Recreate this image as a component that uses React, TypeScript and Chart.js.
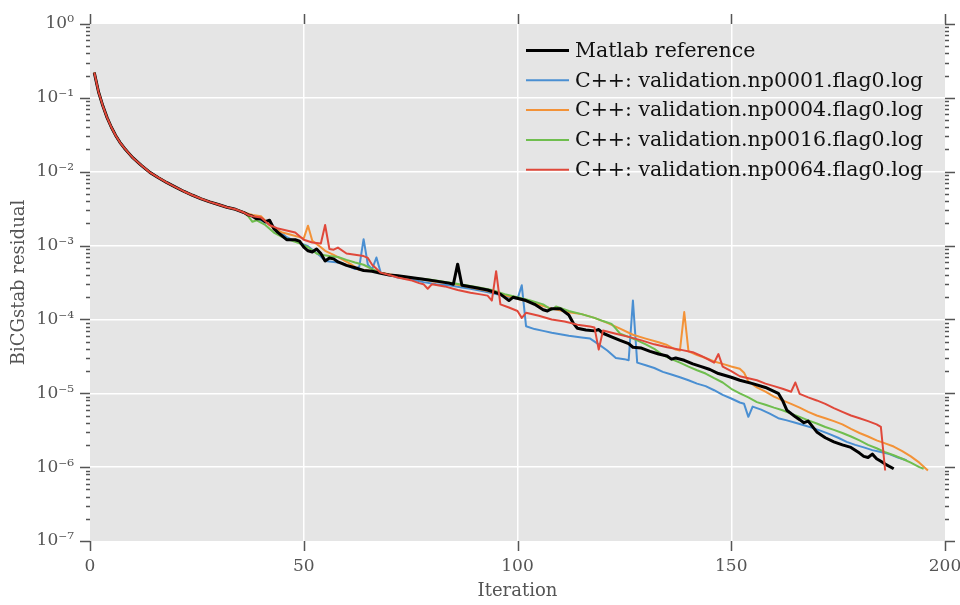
import React, { useEffect, useRef } from "react";
import { Chart, registerables } from "chart.js";
Chart.register(...registerables);

// ---- data (iteration, residual) ----
const commonIter = [1, 2, 3, 4, 5, 6, 7, 8, 9, 10, 12, 14, 16, 18, 20, 22, 24, 26, 28, 30, 32, 34, 36];
const commonRes = [0.22, 0.12, 0.078, 0.054, 0.04, 0.031, 0.025, 0.021, 0.018, 0.0155, 0.0122, 0.0098, 0.0083, 0.0071, 0.0062, 0.0054, 0.0048, 0.0043, 0.0039, 0.0036, 0.0033, 0.0031, 0.0028];

const matlabIter = [37, 38, 39, 40, 41, 42, 43, 44, 46, 48, 49, 50, 51, 52, 53, 54, 55, 56, 57, 58, 60, 62, 64, 66, 68, 70, 72, 75, 78, 81, 84, 85, 86, 87, 90, 93, 96, 98, 99, 102, 104, 106, 107, 108, 110, 112, 113, 114, 116, 118, 119, 120, 122, 124, 126, 127, 129, 131, 133, 135, 136, 137, 139, 141, 143, 145, 147, 150, 152, 155, 158, 161, 162, 163, 165, 166, 167, 168, 170, 172, 174, 176, 178, 180, 181, 182, 183, 184, 185, 186, 188];
const matlabRes = [0.0026, 0.0025, 0.0023, 0.0023, 0.0021, 0.0022, 0.0017, 0.0015, 0.0012, 0.0012, 0.00115, 0.00095, 0.00085, 0.00082, 0.0009, 0.00078, 0.00062, 0.00068, 0.00066, 0.0006, 0.00054, 0.0005, 0.00046, 0.00045, 0.00042, 0.0004, 0.00039, 0.00037, 0.00035, 0.00033, 0.00031, 0.0003, 0.00056, 0.00029, 0.00027, 0.00025, 0.00022, 0.00018, 0.0002, 0.00018, 0.00016, 0.000135, 0.00013, 0.00014, 0.00014, 0.000115, 0.00009, 0.000076, 0.000072, 0.00007, 0.000073, 0.000065, 0.000058, 0.000052, 0.000047, 0.000042, 0.000041, 0.000037, 0.000034, 0.000032, 0.000029, 0.00003, 0.000028, 0.000025, 0.000023, 0.000021, 0.0000185, 0.0000165, 0.000015, 0.0000135, 0.000012, 0.00001, 0.000008, 0.0000059, 0.0000048, 0.0000044, 0.000004, 0.0000042, 0.000003, 0.0000025, 0.0000022, 0.000002, 0.00000185, 0.00000155, 0.0000014, 0.00000135, 0.0000015, 0.0000013, 0.0000012, 0.0000011, 0.00000095];

const np0001Iter = [37, 38, 40, 43, 46, 48, 51, 54, 55, 57, 59, 62, 63, 64, 65, 66, 67, 68, 70, 72, 75, 78, 81, 84, 87, 89, 92, 95, 98, 100, 101, 102, 104, 106, 108, 110, 112, 115, 117, 119, 121, 123, 125, 126, 127, 128, 130, 132, 134, 136, 138, 140, 142, 144, 146, 148, 150, 152, 153, 154, 155, 157, 159, 161, 163, 165, 167, 169, 171, 173, 175, 177, 179, 181, 183, 185, 187, 189, 191];
const np0001Res = [0.0026, 0.0025, 0.0022, 0.0018, 0.0013, 0.00115, 0.00098, 0.00071, 0.00062, 0.0006, 0.00058, 0.00048, 0.00052, 0.00122, 0.00055, 0.00048, 0.00069, 0.00043, 0.0004, 0.00037, 0.00035, 0.00032, 0.0003, 0.00029, 0.00027, 0.00026, 0.00024, 0.00022, 0.0002, 0.00019, 0.00029, 0.000081, 0.000074, 0.00007, 0.000066, 0.000063, 0.00006, 0.000057, 0.000055, 0.000046, 0.000038, 0.00003, 0.000029, 0.000028, 0.00018, 0.000026, 0.000024, 0.000022, 0.0000195, 0.000018, 0.0000165, 0.000015, 0.0000135, 0.0000125, 0.000011, 0.0000095, 0.0000085, 0.0000075, 0.0000072, 0.0000048, 0.0000066, 0.000006, 0.0000053, 0.0000046, 0.0000043, 0.000004, 0.0000037, 0.0000034, 0.0000031, 0.0000028, 0.0000025, 0.0000022, 0.000002, 0.00000185, 0.0000017, 0.0000016, 0.0000015, 0.00000135, 0.00000124];

const np0004Iter = [37, 38, 40, 42, 43, 45, 47, 49, 50, 51, 52, 54, 55, 57, 59, 61, 63, 65, 67, 70, 73, 76, 80, 84, 88, 92, 96, 100, 104, 108, 112, 115, 118, 121, 124, 127, 130, 133, 135, 137, 138, 139, 140, 142, 144, 146, 148, 150, 152, 153, 154, 156, 158, 160, 162, 164, 166, 168, 170, 172, 174, 176, 178, 180, 182, 184, 186, 188, 190, 192, 194, 196];
const np0004Res = [0.0027, 0.0026, 0.0025, 0.0019, 0.0017, 0.0015, 0.0014, 0.0013, 0.00125, 0.00186, 0.00116, 0.00095, 0.00085, 0.00075, 0.00065, 0.00056, 0.00047, 0.00046, 0.00044, 0.00041, 0.00038, 0.00036, 0.00033, 0.00031, 0.00028, 0.00025, 0.00022, 0.00019, 0.000165, 0.00014, 0.000125, 0.000118, 0.000105, 0.00009, 0.000075, 0.000062, 0.000055, 0.000049, 0.000045, 0.000039, 0.000038, 0.000126, 0.000037, 0.000033, 0.00003, 0.000027, 0.000025, 0.000023, 0.0000215, 0.000019, 0.0000145, 0.000012, 0.0000105, 0.000009, 0.000008, 0.0000072, 0.0000064, 0.0000056, 0.000005, 0.0000046, 0.0000042, 0.0000038, 0.0000033, 0.0000029, 0.0000026, 0.0000023, 0.0000021, 0.0000019, 0.00000165, 0.0000014, 0.00000115, 0.0000009];

const np0016Iter = [37, 38, 39, 41, 43, 45, 47, 49, 51, 53, 54, 56, 58, 60, 62, 64, 66, 68, 70, 73, 76, 79, 82, 85, 88, 91, 94, 97, 100, 103, 106, 108, 109, 112, 115, 118, 120, 122, 123, 124, 126, 128, 130, 132, 134, 136, 138, 140, 142, 144, 146, 148, 150, 152, 154, 156, 158, 160, 162, 164, 166, 168, 170, 172, 174, 176, 178, 180, 182, 184, 186, 188, 190, 192, 194, 195];
const np0016Res = [0.0025, 0.0021, 0.0022, 0.0019, 0.0015, 0.0013, 0.00118, 0.00107, 0.00095, 0.00078, 0.00075, 0.00072, 0.0007, 0.00064, 0.00059, 0.00055, 0.00048, 0.00043, 0.0004, 0.00038, 0.00036, 0.00035, 0.00033, 0.00031, 0.00029, 0.00027, 0.00025, 0.00022, 0.0002, 0.00018, 0.00016, 0.000135, 0.00015, 0.00013, 0.000118, 0.000105, 0.000095, 0.000087, 0.000075, 0.000064, 0.000058, 0.000052, 0.000046, 0.00004, 0.000033, 0.000029, 0.000026, 0.000023, 0.0000205, 0.0000185, 0.000016, 0.000014, 0.0000115, 0.00001, 0.0000088, 0.0000076, 0.000007, 0.0000064, 0.0000059, 0.0000053, 0.0000048, 0.0000043, 0.0000039, 0.0000035, 0.0000032, 0.0000029, 0.0000026, 0.0000023, 0.000002, 0.0000018, 0.0000016, 0.00000145, 0.0000013, 0.00000115, 0.000001, 0.00000095];

const np0064Iter = [37, 38, 40, 42, 44, 46, 48, 50, 52, 54, 55, 56, 57, 58, 60, 62, 64, 65, 66, 68, 70, 72, 75, 77, 78, 79, 80, 83, 86, 89, 91, 93, 94, 95, 96, 98, 100, 101, 102, 105, 108, 111, 114, 117, 118, 119, 120, 123, 126, 129, 132, 135, 138, 141, 143, 145, 146, 147, 148, 150, 152, 154, 156, 158, 160, 162, 164, 165, 166, 168, 170, 172, 174, 176, 178, 180, 182, 184, 185, 186];
const np0064Res = [0.0026, 0.0025, 0.0024, 0.0019, 0.0017, 0.0016, 0.0015, 0.0012, 0.0011, 0.00107, 0.0019, 0.0009, 0.00088, 0.00094, 0.00078, 0.00075, 0.00072, 0.00068, 0.00055, 0.00043, 0.0004, 0.00037, 0.00034, 0.00031, 0.0003, 0.00026, 0.0003, 0.00028, 0.00025, 0.00023, 0.00022, 0.00021, 0.00018, 0.00045, 0.00016, 0.000145, 0.00013, 0.000105, 0.000123, 0.000112, 0.0001, 0.000094, 0.000085, 0.00008, 0.000078, 0.000039, 0.000071, 0.000064, 0.000058, 0.000052, 0.000046, 0.000042, 0.000039, 0.000036, 0.000032, 0.000028, 0.000026, 0.000034, 0.000023, 0.00002, 0.000017, 0.000016, 0.000015, 0.0000135, 0.0000125, 0.0000115, 0.0000105, 0.000014, 0.0000098, 0.0000088, 0.000008, 0.0000072, 0.0000063, 0.0000056, 0.000005, 0.0000046, 0.0000042, 0.0000038, 0.0000035, 0.0000009];

const seriesLabels = [
  "Matlab reference",
  "C++: validation.np0001.flag0.log",
  "C++: validation.np0004.flag0.log",
  "C++: validation.np0016.flag0.log",
  "C++: validation.np0064.flag0.log",
];
const seriesColors = ["#000000", "#4a8fd2", "#f39237", "#6fbe4e", "#e0483a"];
const seriesWidths = [3, 2, 2, 2, 2];
const seriesOrder = [1, 4, 3, 2, 0];

const xTickValues = [0, 50, 100, 150, 200];
const yMinExp = -7;
const yMaxExp = 0;

const SUP: Record<string, string> = { "-": "\u207B", "0": "\u2070", "1": "\u00B9", "2": "\u00B2", "3": "\u00B3", "4": "\u2074", "5": "\u2075", "6": "\u2076", "7": "\u2077", "8": "\u2078", "9": "\u2079" };
const sup = (n: number) => String(n).split("").map((c) => SUP[c] || c).join("");
const isDecade = (v: number) => Math.abs(Math.log10(v) - Math.round(Math.log10(v))) < 1e-9;

const FONT = "'DejaVu Serif', serif";

function pairs(xs: number[], ys: number[]) {
  return xs.map((x, i) => ({ x, y: ys[i] }));
}

export default function App() {
  const ref = useRef<HTMLCanvasElement>(null);
  useEffect(() => {
    document.body.style.margin = "0";
    const canvas = ref.current!;
    const allIter = [matlabIter, np0001Iter, np0004Iter, np0016Iter, np0064Iter];
    const allRes = [matlabRes, np0001Res, np0004Res, np0016Res, np0064Res];
    const datasets = seriesLabels.map((label, i) => ({
      label,
      data: pairs(commonIter.concat(allIter[i]), commonRes.concat(allRes[i])),
      borderColor: seriesColors[i],
      backgroundColor: seriesColors[i],
      borderWidth: seriesWidths[i],
      pointRadius: 0,
      tension: 0,
      fill: false,
      order: seriesOrder[i],
      borderJoinStyle: "round" as const,
    }));

    const bgPlugin = {
      id: "bg",
      beforeDraw(chart: any) {
        const { ctx, chartArea: a } = chart;
        ctx.save();
        ctx.fillStyle = "#ffffff";
        ctx.fillRect(0, 0, chart.width, chart.height);
        ctx.fillStyle = "#e5e5e5";
        ctx.fillRect(a.left, a.top, a.right - a.left, a.bottom - a.top);
        ctx.restore();
      },
    };

    const ticksPlugin = {
      id: "outerTicks",
      afterDraw(chart: any) {
        const { ctx, chartArea: a, scales } = chart;
        ctx.save();
        ctx.strokeStyle = "#555555";
        ctx.lineWidth = 1.5;
        ctx.beginPath();
        for (const t of scales.x.ticks) {
          const px = Math.round(scales.x.getPixelForValue(t.value)) + 0.5;
          ctx.moveTo(px, a.bottom);
          ctx.lineTo(px, a.bottom + 10);
          ctx.moveTo(px, a.top);
          ctx.lineTo(px, a.top - 10);
        }
        for (const t of scales.y.ticks) {
          const py = Math.round(scales.y.getPixelForValue(t.value)) + 0.5;
          const len = isDecade(t.value) ? 10 : 4;
          ctx.moveTo(a.left, py);
          ctx.lineTo(a.left - len, py);
          ctx.moveTo(a.right, py);
          ctx.lineTo(a.right + len, py);
        }
        ctx.stroke();
        ctx.restore();
      },
    };

    const legendPlugin = {
      id: "innerLegend",
      afterDatasetsDraw(chart: any) {
        const { ctx } = chart;
        ctx.save();
        ctx.font = `20.5px ${FONT}`;
        ctx.textBaseline = "middle";
        ctx.textAlign = "left";
        seriesLabels.forEach((label, i) => {
          const y = 50.5 + i * 29.8;
          ctx.strokeStyle = seriesColors[i];
          ctx.lineWidth = seriesWidths[i];
          ctx.beginPath();
          ctx.moveTo(526, y);
          ctx.lineTo(569, y);
          ctx.stroke();
          ctx.fillStyle = "#111111";
          ctx.fillText(label, 575, y + 1);
        });
        ctx.restore();
      },
    };

    const chart = new Chart(canvas, {
      type: "line",
      data: { datasets },
      options: {
        animation: false,
        responsive: false,
        layout: { padding: { top: 24, right: 15, left: 0, bottom: 0 } },
        plugins: { legend: { display: false }, tooltip: { enabled: false } },
        scales: {
          x: {
            type: "linear",
            min: 0,
            max: 200,
            afterBuildTicks: (s: any) => {
              s.ticks = xTickValues.map((v) => ({ value: v }));
            },
            afterFit: (s: any) => {
              s.height = 64;
              s.paddingLeft = 0;
              s.paddingRight = 0;
            },
            ticks: { color: "#555555", font: { family: FONT, size: 17 }, padding: 15, maxRotation: 0 },
            grid: {
              drawTicks: false,
              lineWidth: 1.5,
              color: (c: any) => (c.tick && c.tick.value > 0 && c.tick.value < 200 ? "#ffffff" : "rgba(0,0,0,0)"),
            },
            border: { display: false },
            title: { display: true, text: "Iteration", color: "#555555", font: { family: FONT, size: 18 }, padding: { top: 3, bottom: 3 } },
          },
          y: {
            type: "logarithmic",
            min: Math.pow(10, yMinExp),
            max: Math.pow(10, yMaxExp),
            afterBuildTicks: (s: any) => {
              const t: any[] = [];
              for (let k = yMinExp; k <= yMaxExp; k++) {
                for (let m = 1; m <= 9; m++) {
                  if (k === yMaxExp && m > 1) break;
                  t.push({ value: m * Math.pow(10, k) });
                }
              }
              s.ticks = t;
            },
            afterFit: (s: any) => {
              s.width = 90;
              s.paddingTop = 0;
              s.paddingBottom = 0;
            },
            ticks: {
              autoSkip: false,
              color: "#555555",
              font: { family: FONT, size: 17 },
              padding: 16,
              callback: (v: any) => (isDecade(Number(v)) ? "10" + sup(Math.round(Math.log10(Number(v)))) : ""),
            },
            grid: {
              drawTicks: false,
              lineWidth: 1.5,
              color: (c: any) => {
                const v = c.tick && c.tick.value;
                return v && isDecade(v) && v > 1.5e-7 && v < 0.9 ? "#ffffff" : "rgba(0,0,0,0)";
              },
            },
            border: { display: false },
            title: { display: true, text: "BiCGstab residual", color: "#555555", font: { family: FONT, size: 18 }, padding: { top: 9, bottom: 9 } },
          },
        },
      } as any,
      plugins: [bgPlugin, ticksPlugin, legendPlugin],
    });
    return () => chart.destroy();
  }, []);
  return (
    <canvas
      ref={ref}
      width={960}
      height={605}
      style={{ position: "absolute", left: 0, top: 0, width: 960, height: 605 }}
    />
  );
}
